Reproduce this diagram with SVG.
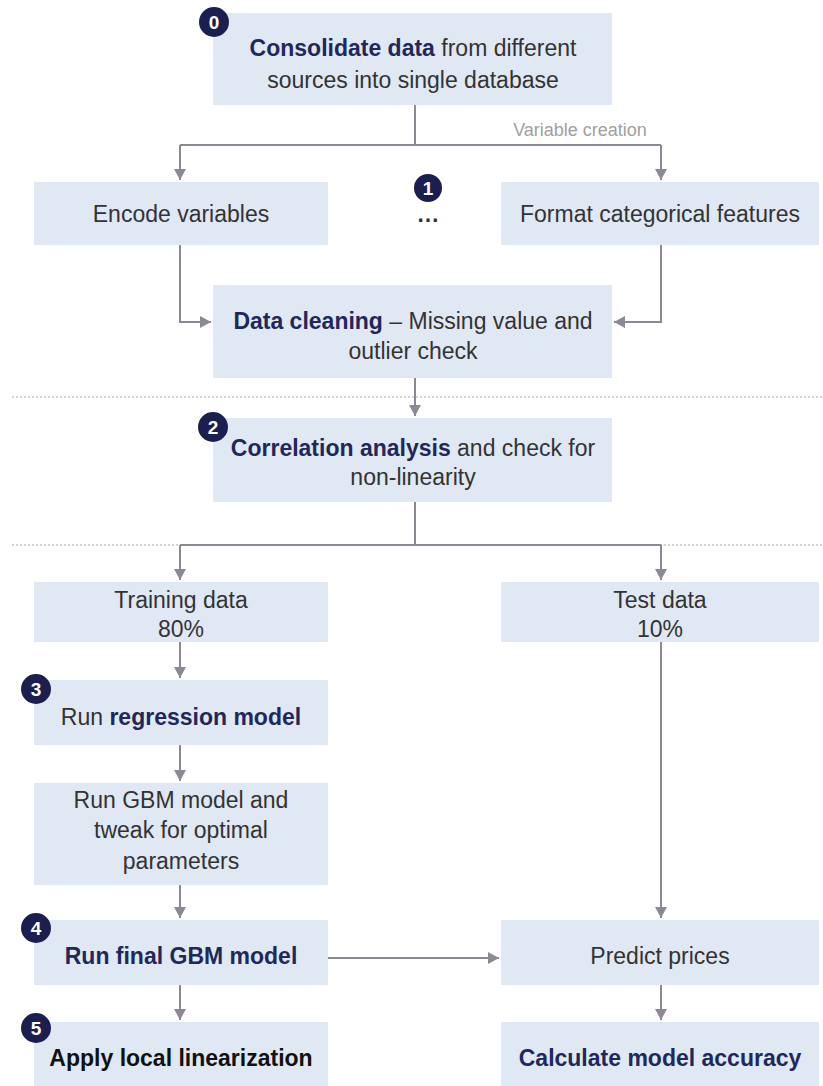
<svg xmlns="http://www.w3.org/2000/svg" width="823" height="1086" viewBox="0 0 823 1086">
<style>
.box{fill:#dfe8f3}
.t{font-family:"Liberation Sans",Arial,sans-serif;font-size:23px;fill:#333;text-anchor:middle}
.b{font-weight:bold;fill:#22275a}
.k{font-weight:bold;fill:#111}
.c{fill:none;stroke:#8d8893;stroke-width:2}
.sep{stroke:#d4d4d4;stroke-width:2;stroke-dasharray:2 2}
.badge{fill:#1b1f4f}
.bt{font-family:"Liberation Sans",Arial,sans-serif;font-size:19px;font-weight:bold;fill:#fff;text-anchor:middle}
.lbl{font-family:"Liberation Sans",Arial,sans-serif;font-size:18px;fill:#a0a0a0;text-anchor:middle}
</style>
<defs>
<marker id="ah" markerWidth="12" markerHeight="12" refX="11" refY="6" orient="auto" markerUnits="userSpaceOnUse">
<path d="M0,0 L11,6 L0,12 Z" fill="#8d8893"/>
</marker>
</defs>
<rect width="823" height="1086" fill="#fff"/>
<g id="separators">
<line class="sep" x1="12" y1="397" x2="823" y2="397"/>
<line class="sep" x1="12" y1="545" x2="823" y2="545"/>
</g>
<g id="connectors">
<path class="c" d="M415,105 V145"/>
<path class="c" d="M180,145 H661"/>
<path class="c" d="M180,145 V180" marker-end="url(#ah)"/>
<path class="c" d="M661,145 V180" marker-end="url(#ah)"/>
<path class="c" d="M180,245 V322 H211" marker-end="url(#ah)"/>
<path class="c" d="M661,245 V322 H614" marker-end="url(#ah)"/>
<path class="c" d="M415,378 V416" marker-end="url(#ah)"/>
<path class="c" d="M415,502 V545"/>
<path class="c" d="M180,545 H661"/>
<path class="c" d="M180,545 V580" marker-end="url(#ah)"/>
<path class="c" d="M661,545 V580" marker-end="url(#ah)"/>
<path class="c" d="M180,642 V678" marker-end="url(#ah)"/>
<path class="c" d="M180,745 V781" marker-end="url(#ah)"/>
<path class="c" d="M180,885 V918" marker-end="url(#ah)"/>
<path class="c" d="M180,985 V1020" marker-end="url(#ah)"/>
<path class="c" d="M661,642 V918" marker-end="url(#ah)"/>
<path class="c" d="M328,958 H499" marker-end="url(#ah)"/>
<path class="c" d="M661,985 V1020" marker-end="url(#ah)"/>
<text class="lbl" x="580" y="136">Variable creation</text>
</g>
<g id="n0">
<rect class="box" x="213" y="13" width="399" height="92"/>
<text class="t" x="413" y="56"><tspan class="b">Consolidate data</tspan> from different</text>
<text class="t" x="413" y="88">sources into single database</text>
<circle class="badge" cx="214" cy="22" r="15"/><text class="bt" x="214" y="29">0</text>
</g>
<g id="encode">
<rect class="box" x="34" y="182" width="294" height="63"/>
<text class="t" x="181" y="222">Encode variables</text>
</g>
<g id="step1">
<circle class="badge" cx="428" cy="188" r="14"/><text class="bt" x="428" y="195">1</text>
<text class="t" x="428" y="222" style="font-weight:bold">…</text>
</g>
<g id="format">
<rect class="box" x="501" y="182" width="318" height="63"/>
<text class="t" x="660" y="222">Format categorical features</text>
</g>
<g id="cleaning">
<rect class="box" x="213" y="285" width="399" height="93"/>
<text class="t" x="413" y="329"><tspan class="b">Data cleaning</tspan> – Missing value and</text>
<text class="t" x="413" y="359">outlier check</text>
</g>
<g id="correlation">
<rect class="box" x="213" y="418" width="399" height="84"/>
<text class="t" x="413" y="456"><tspan class="b">Correlation analysis</tspan> and check for</text>
<text class="t" x="413" y="485">non-linearity</text>
<circle class="badge" cx="213" cy="427" r="15"/><text class="bt" x="213" y="434">2</text>
</g>
<g id="training">
<rect class="box" x="34" y="582" width="294" height="60"/>
<text class="t" x="181" y="608">Training data</text>
<text class="t" x="181" y="637">80%</text>
</g>
<g id="test">
<rect class="box" x="501" y="582" width="318" height="60"/>
<text class="t" x="660" y="608">Test data</text>
<text class="t" x="660" y="637">10%</text>
</g>
<g id="regression">
<rect class="box" x="34" y="680" width="294" height="65"/>
<text class="t" x="181" y="725">Run <tspan class="b">regression model</tspan></text>
<circle class="badge" cx="36" cy="689" r="15"/><text class="bt" x="36" y="696">3</text>
</g>
<g id="gbm">
<rect class="box" x="34" y="783" width="294" height="102"/>
<text class="t" x="181" y="808">Run GBM model and</text>
<text class="t" x="181" y="838">tweak for optimal</text>
<text class="t" x="181" y="869">parameters</text>
</g>
<g id="finalgbm">
<rect class="box" x="34" y="920" width="294" height="65"/>
<text class="t b" x="181" y="964">Run final GBM model</text>
<circle class="badge" cx="36" cy="928" r="15"/><text class="bt" x="36" y="935">4</text>
</g>
<g id="apply">
<rect class="box" x="34" y="1022" width="294" height="64"/>
<text class="t k" x="181" y="1066">Apply local linearization</text>
<circle class="badge" cx="36" cy="1028" r="15"/><text class="bt" x="36" y="1035">5</text>
</g>
<g id="predict">
<rect class="box" x="501" y="920" width="318" height="65"/>
<text class="t" x="660" y="964">Predict prices</text>
</g>
<g id="accuracy">
<rect class="box" x="501" y="1022" width="318" height="64"/>
<text class="t b" x="660" y="1066">Calculate model accuracy</text>
</g>
</svg>
